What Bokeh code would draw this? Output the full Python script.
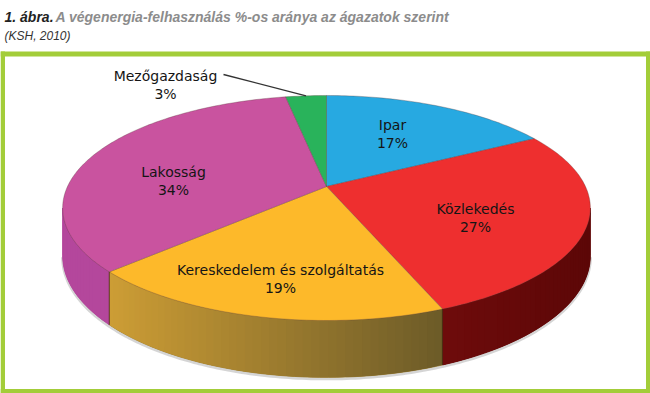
import numpy as np
from bokeh.plotting import figure
from bokeh.models import Range1d, ColumnDataSource
from bokeh.core.properties import value
from bokeh.embed import file_html
from bokeh.resources import INLINE

# ---------------- data ----------------
categories = ["Ipar", "Közlekedés", "Kereskedelem és szolgáltatás", "Lakosság", "Mezőgazdaság"]
shares = [17, 27, 19, 34, 3]
title_num = "1. ábra."
title_text = "A végenergia-felhasználás %-os aránya az ágazatok szerint"
subtitle = "(KSH, 2010)"

# ---------------- styles / layout ----------------
top_colors = ["#27a9e1", "#ee2f2f", "#fdb92a", "#c9539f", "#29b35b"]
side_left = ["#1b7aa3", "#6e0b0b", "#cd9d35", "#b4479c", "#1f8a45"]
side_right = ["#1b7aa3", "#5c0707", "#6c5b28", "#b4479c", "#1f8a45"]
label_xy = [(392, 124), (475, 208), (280, 269), (173, 171), (165, 75)]
line_gap = 18
leader_index = 4

CX, CY = 326.0, 186.0
A, B, K = 259.0, 108.4, 0.191
DEPTH = 46.0
FRAME = "#a3cd39"


def proj(phi_deg, r=1.0):
    ph = np.radians(phi_deg)
    u = r * np.sin(ph)
    v = r * np.cos(ph)
    d = 1 + K * v
    return CX + A * u / d, CY - B * v / d


def depth(phi_deg):
    return DEPTH / (1 + K * np.cos(np.radians(phi_deg)))


def hex2rgb(h):
    h = h.lstrip("#")
    return np.array([int(h[i:i + 2], 16) for i in (0, 2, 4)], float)


def rgb2hex(c):
    c = np.clip(np.round(c), 0, 255).astype(int)
    return "#%02x%02x%02x" % tuple(c)


W, H = 650, 393
p = figure(width=W, height=H, x_range=Range1d(0, W), y_range=Range1d(H, 0),
           output_backend="svg", toolbar_location=None, min_border=0,
           x_axis_location=None, y_axis_location=None)
p.grid.visible = False
p.outline_line_color = None
p.background_fill_color = "white"
p.border_fill_color = "white"

# frame
p.quad(left=[0, 645.5, 0, 0], right=[650, 650, 4.5, 650],
       top=[51, 51, 51, 388.5], bottom=[56, 393, 393, 393],
       fill_color=FRAME, line_color=None)

# angles
cum = np.concatenate([[0], np.cumsum(shares)]) / sum(shares) * 360.0
phi_r = np.degrees(np.arccos(-K))
phi_l = 360 - phi_r

# soft shadow under the side
sh = np.linspace(phi_r, phi_l, 200)
sx, sy = proj(sh)
p.line(sx, sy + depth(sh) + 1.5, line_color="#888888", line_alpha=0.35, line_width=3)

# side walls: base patch per slice, then gradient strips on top
bxs, bys, bcols = [], [], []
xs, ys, cols = [], [], []
edges = []
for i in range(len(shares)):
    a0, a1 = max(cum[i], phi_r), min(cum[i + 1], phi_l)
    if a1 <= a0:
        continue
    n = max(2, int((a1 - a0) / 1.5))
    ph = np.linspace(a0, a1, n + 1)
    px, py = proj(ph)
    dp = depth(ph)
    bxs.append(np.concatenate([px, px[::-1]]))
    bys.append(np.concatenate([py, (py + dp)[::-1]]))
    cl, cr = hex2rgb(side_left[i]), hex2rgb(side_right[i])
    bcols.append(rgb2hex((cl + cr) / 2))
    xmin, xmax = px.min(), px.max()
    for j in range(n):
        k2 = min(j + 2, n)
        xs.append([px[j], px[k2], px[k2], px[j]])
        ys.append([py[j], py[k2], py[k2] + dp[k2], py[j] + dp[j]])
        t = ((px[j] + px[j + 1]) / 2 - xmin) / (xmax - xmin) if xmax > xmin else 0
        cols.append(rgb2hex(cl + (cr - cl) * t))
    for a in (cum[i], cum[i + 1]):
        if phi_r < a < phi_l:
            ex, ey = proj(a)
            edges.append(([ex, ex], [ey, ey + depth(a)]))
p.patches(bxs, bys, fill_color=bcols, line_color=bcols, line_width=0.8)
p.patches(xs, ys, fill_color=cols, line_color=None)
for ex, ey in edges:
    p.line(ex, ey, line_color="#3a2a10", line_alpha=0.55, line_width=0.8)

# top faces
txs, tys = [], []
for i in range(len(shares)):
    ph = np.linspace(cum[i], cum[i + 1], max(3, int(cum[i + 1] - cum[i]) + 1))
    px, py = proj(ph)
    txs.append(np.concatenate([[CX], px]))
    tys.append(np.concatenate([[CY], py]))
p.patches(txs, tys, fill_color=top_colors, line_color="#5a3a3a", line_alpha=0.45, line_width=0.7)

# leader line for the small slice
mid = (cum[leader_index] + cum[leader_index + 1]) / 2
lx, ly = proj(mid)
p.line([label_xy[leader_index][0] + 58, lx], [label_xy[leader_index][1] - 1, ly],
       line_color="#333333", line_width=1.4)

# labels
src = ColumnDataSource(dict(
    x=[xy[0] for xy in label_xy],
    y1=[xy[1] for xy in label_xy],
    y2=[xy[1] + line_gap for xy in label_xy],
    name=categories,
    pct=[f"{s}%" for s in shares],
))
for col, yc in (("name", "y1"), ("pct", "y2")):
    p.text(x="x", y=yc, text=col, source=src, text_font=value("DejaVu Sans"),
           text_font_size="14px", text_color="#151515", text_align="center",
           text_baseline="middle")

# title
p.text(x=[4], y=[16], text=[title_num], text_font=value("Liberation Sans"),
       text_font_size="14px", text_font_style="bold italic", text_color="#222222",
       text_baseline="alphabetic")
p.text(x=[55], y=[16], text=[title_text], text_font=value("Liberation Sans"),
       text_font_size="14px", text_font_style="bold italic", text_color="#8c8c8c",
       text_baseline="alphabetic")
p.text(x=[4], y=[35], text=[subtitle], text_font=value("Liberation Sans"),
       text_font_size="12px", text_font_style="italic", text_color="#333333",
       text_baseline="alphabetic")

open("out.html", "w").write(file_html(p, INLINE))
